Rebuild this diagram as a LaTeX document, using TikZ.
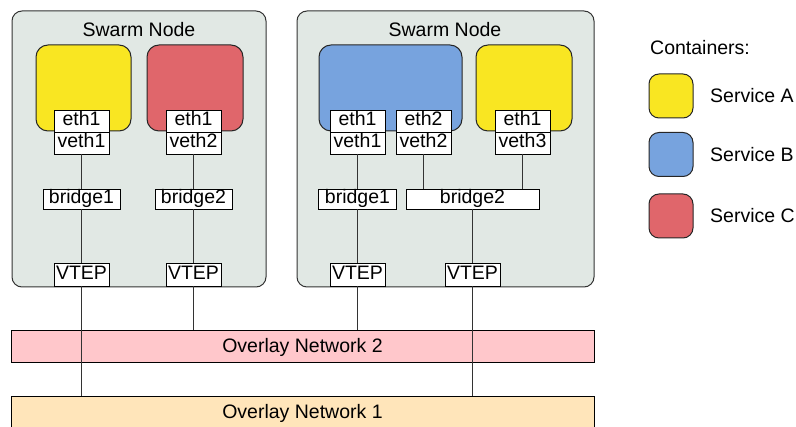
\documentclass[tikz,border=0pt]{standalone}
\usepackage{fontspec}
\setmainfont{Liberation Sans}
\usetikzlibrary{positioning}
\definecolor{svcA}{HTML}{F9E622}
\definecolor{svcB}{HTML}{77A3DE}
\definecolor{svcC}{HTML}{E0666B}
\definecolor{hostbg}{HTML}{E1E8E4}
\definecolor{ovltwo}{HTML}{FFC7CB}
\definecolor{ovlone}{HTML}{FFE5BA}

\begin{document}
\begin{tikzpicture}[x=1pt, y=-1pt, font=\fontsize{19.5}{23}\selectfont,
  host/.style={draw=black!80, fill=hostbg, rounded corners=10pt, line width=1pt, inner sep=0pt},
  ctr/.style={draw=black!85, rounded corners=12pt, line width=1pt, inner sep=0pt},
  port/.style={draw, fill=white, line width=0.8pt, inner sep=0pt, outer sep=0pt, minimum width=55, minimum height=22, text height=13.5pt, text depth=4pt},
  ovl/.style={draw, line width=1pt, inner sep=0pt, minimum width=583, minimum height=32},
  lbl/.style={inner sep=0pt, anchor=west},
  wire/.style={draw=black!80, line width=1.5pt}]
\useasboundingbox (0,0) rectangle (796,427);
%swarm node 1
\node[host, minimum width=254, minimum height=276] (h1) at (139,149) {};
\node (h1t) at (139,30) {Swarm Node};
\node[ctr, fill=svcA, minimum width=95, minimum height=86] (a1) at (83.5,88) {};
\node[ctr, fill=svcC, minimum width=96, minimum height=86] (c1) at (195,88) {};
\node[port] (e11) at (81.5,121) {eth1};
\node[port, below=0pt of e11] (v11) {veth1};
\node[port] (e12) at (193.5,121) {eth1};
\node[port, below=0pt of e12] (v12) {veth2};
\node[port, minimum width=77, minimum height=20] (b11) at (81.5,199) {bridge1};
\node[port, minimum width=77, minimum height=20] (b12) at (193.5,199) {bridge2};
\node[port, minimum height=23] (t11) at (81.5,274.5) {VTEP};
\node[port, minimum height=23] (t12) at (193.5,274.5) {VTEP};
%swarm node 2
\node[host, minimum width=297, minimum height=276] (h2) at (445.5,149) {};
\node (h2t) at (445,30) {Swarm Node};
\node[ctr, fill=svcB, minimum width=143, minimum height=86] (b2) at (390.5,88) {};
\node[ctr, fill=svcA, minimum width=96, minimum height=86] (a2) at (524,88) {};
\node[port] (e21) at (357.5,121) {eth1};
\node[port, below=0pt of e21] (v21) {veth1};
\node[port] (e22) at (423.5,121) {eth2};
\node[port, below=0pt of e22] (v22) {veth2};
\node[port] (e23) at (522.5,121) {eth1};
\node[port, below=0pt of e23] (v23) {veth3};
\node[port, minimum width=78, minimum height=20] (b21) at (357.5,199) {bridge1};
\node[port, minimum width=133, minimum height=20] (b22) at (472.5,199) {bridge2};
\node[port, minimum height=23] (t21) at (357.5,274.5) {VTEP};
\node[port, minimum height=23] (t22) at (472.5,274.5) {VTEP};
%overlay networks
\node[ovl, fill=ovltwo] (on2) at (302.5,347) {Overlay Network 2};
\node[ovl, fill=ovlone] (on1) at (302.5,413) {Overlay Network 1};
%links
\draw[wire] (v11) -- (b11) -- (t11);
\draw[wire] (v12) -- (b12) -- (t12);
\draw[wire] (v21) -- (b21) -- (t21);
\draw[wire] (v22) -- (v22 |- b22.north);
\draw[wire] (v23) -- (v23 |- b22.north);
\draw[wire] (b22) -- (t22);
\draw[wire] (t11) -- (t11 |- on1.north);
\draw[wire] (t12) -- (t12 |- on2.north);
\draw[wire] (t21) -- (t21 |- on2.north);
\draw[wire] (t22) -- (t22 |- on1.north);
%legend
\node[lbl] (leg) at (650,48) {Containers:};
\foreach \c/\s/\y in {svcA/A/96, svcB/B/154.5, svcC/C/216}{
  \node[ctr, fill=\c, rounded corners=10pt, minimum width=44, minimum height=44] (l\s) at (671,\y) {};
  \node[lbl] (l\s t) at (710,\y) {Service \s};
}
\end{tikzpicture}
\end{document}
